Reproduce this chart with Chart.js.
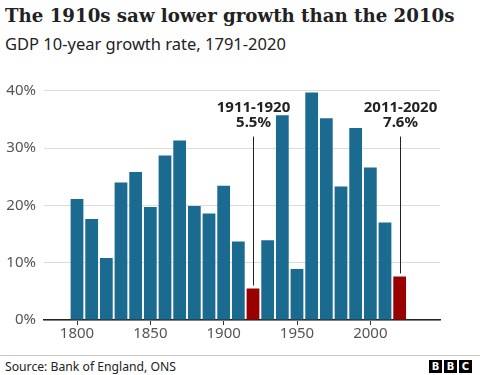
<!DOCTYPE html>
<html>
<head>
<meta charset="utf-8">
<script src="https://cdn.jsdelivr.net/npm/chart.js@4"></script>
<style>
  body { margin: 0; width: 480px; height: 375px; background: #fff; position: relative; overflow: hidden; font-family: "Noto Sans", sans-serif; }
  #title { position: absolute; left: 5px; top: 5px; font: bold 18.2px "DejaVu Serif", serif; color: #222; white-space: nowrap; }
  #subtitle { position: absolute; left: 5px; top: 32px; font-size: 16.5px; color: #222; white-space: nowrap; }
  #wrap { position: absolute; left: 0; top: 0; width: 480px; height: 345px; }
  #rule { position: absolute; left: 0; top: 355px; width: 480px; height: 1px; background: #c8c8c8; }
  #source { position: absolute; left: 5px; top: 358px; font-size: 12.2px; color: #222; }
  #logo { position: absolute; left: 429px; top: 360px; display: flex; gap: 2px; }
  #logo span { width: 13px; height: 13px; background: #000; color: #fff; font: bold 10px "DejaVu Sans", sans-serif; text-align: center; line-height: 13px; }
</style>
</head>
<body>
<div id="title">The 1910s saw lower growth than the 2010s</div>
<div id="subtitle">GDP 10-year growth rate, 1791-2020</div>
<div id="wrap"><canvas id="chart"></canvas></div>
<div id="rule"></div>
<div id="source">Source: Bank of England, ONS</div>
<div id="logo"><span>B</span><span>B</span><span>C</span></div>
<script>
// decade end years (bar for 1791-1800 sits at 1800, etc.)
const years = [1800, 1810, 1820, 1830, 1840, 1850, 1860, 1870, 1880, 1890, 1900, 1910,
               1920, 1930, 1940, 1950, 1960, 1970, 1980, 1990, 2000, 2010, 2020];
const growth = [21.1, 17.6, 10.8, 24.0, 25.8, 19.7, 28.7, 31.3, 19.9, 18.6, 23.4, 13.7,
                5.5, 13.9, 35.7, 8.9, 39.7, 35.2, 23.3, 33.5, 26.6, 17.0, 7.6];
const highlightYears = [1920, 2020];
const highlightLabels = ['1911-1920', '2011-2020'];
const highlightValues = ['5.5%', '7.6%'];
const xTicks = [1800, 1850, 1900, 1950, 2000];
const yTicks = [0, 10, 20, 30, 40];

const blue = '#1b6a90';
const red = '#990000';

// callout labels with a thin line down to the highlighted bar
const callouts = {
  id: 'callouts',
  afterDatasetsDraw(chart) {
    const { ctx, scales: { x, y } } = chart;
    ctx.save();
    highlightYears.forEach((yr, i) => {
      const px = Math.round(x.getPixelForValue(yr)) + 0.5;
      const v = growth[years.indexOf(yr)];
      ctx.strokeStyle = '#222';
      ctx.lineWidth = 1;
      ctx.beginPath();
      ctx.moveTo(px, y.getPixelForValue(32.0));
      ctx.lineTo(px, y.getPixelForValue(v) - 3);
      ctx.stroke();
      ctx.fillStyle = '#222';
      ctx.font = 'bold 15px "Noto Sans", sans-serif';
      ctx.textAlign = 'center';
      ctx.textBaseline = 'alphabetic';
      ctx.fillText(highlightLabels[i], px, y.getPixelForValue(36.3));
      ctx.fillText(highlightValues[i], px, y.getPixelForValue(33.75));
    });
    ctx.restore();
  }
};

new Chart(document.getElementById('chart'), {
  type: 'bar',
  data: {
    datasets: [{
      data: years.map((yr, i) => ({ x: yr, y: growth[i] })),
      backgroundColor: years.map(yr => highlightYears.includes(yr) ? red : blue),
      borderWidth: 0,
      barPercentage: 0.87,
      categoryPercentage: 1
    }]
  },
  options: {
    responsive: true,
    maintainAspectRatio: false,
    animation: false,
    layout: { padding: { top: 90.7, right: 40, left: 0, bottom: 0 } },
    plugins: { legend: { display: false }, tooltip: { enabled: false } },
    scales: {
      x: {
        type: 'linear',
        offset: false,
        min: 1777.5,
        max: 2047.5,
        afterBuildTicks: s => { s.ticks = xTicks.map(v => ({ value: v })); },
        afterFit: s => { s.height = 25; },
        grid: { drawOnChartArea: false, drawTicks: true, tickLength: 5, color: '#333', offset: false },
        border: { display: true, color: '#222', width: 1.5 },
        ticks: {
          callback: v => String(v),
          color: '#555',
          font: { family: 'Noto Sans', size: 15 },
          padding: 0,
          maxRotation: 0
        }
      },
      y: {
        min: 0,
        max: 40,
        afterBuildTicks: s => { s.ticks = yTicks.map(v => ({ value: v })); },
        afterFit: s => { s.width = 44; },
        grid: { color: '#dcdcdc', drawTicks: false, lineWidth: 1 },
        border: { display: false },
        ticks: {
          callback: v => v + '%',
          color: '#555',
          font: { family: 'Noto Sans', size: 15 },
          padding: 8
        }
      }
    }
  },
  plugins: [callouts]
});
</script>
</body>
</html>
